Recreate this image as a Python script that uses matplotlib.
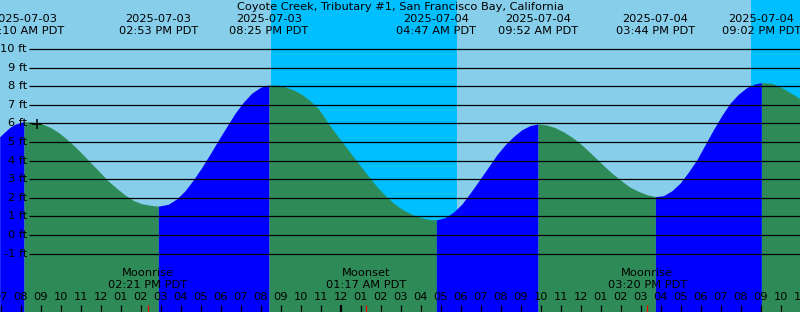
"""
Tide chart for Coyote Creek, Tributary #1 (2025-07-03 .. 2025-07-04).
"""

import numpy as np
import pandas as pd
import matplotlib
matplotlib.use("Agg")
import matplotlib.pyplot as plt
import matplotlib.transforms as mtransforms

BASE = pd.Timestamp("2025-07-03 00:00")

# high / low tide events
event_stamps = ["2025-07-03 08:10", "2025-07-03 14:53", "2025-07-03 20:25",
                "2025-07-04 04:47", "2025-07-04 09:52", "2025-07-04 15:44",
                "2025-07-04 21:02"]
event_ft = [6.09, 1.55, 8.06, 0.81, 5.97, 2.06, 8.19]

# tide height (hours since 2025-07-03 00:00, feet)
curve_hours = [6.95, 7.215, 7.465, 7.715, 7.965,
               8.63, 9.05, 9.465, 9.88, 10.30, 10.715, 11.13, 11.55, 11.965, 12.38,
               12.80, 13.215, 13.63, 14.05, 14.465,
               15.38, 15.80, 16.215, 16.63, 17.05, 17.465, 17.88, 18.30, 18.715, 19.13,
               19.55, 19.965, 20.215,
               20.80, 21.215, 21.63, 22.05, 22.465, 22.88, 23.10, 23.38, 23.80, 24.215,
               24.63, 25.05, 25.465, 25.88, 26.30, 26.715, 27.13, 27.55, 27.965, 28.38,
               29.215, 29.63, 30.05, 30.465, 30.88, 31.34, 31.80, 32.215, 32.63, 33.05,
               33.465,
               34.30, 34.715, 35.13, 35.55, 35.965, 36.38, 36.80, 37.215, 37.63, 38.05,
               38.465, 38.88, 39.30,
               40.13, 40.55, 40.965, 41.38, 41.80, 42.215, 42.63, 43.05, 43.465, 43.88,
               44.30, 44.715,
               45.55, 45.965, 46.38, 46.80, 46.97]
curve_ft = [5.28, 5.55, 5.79, 5.95, 6.04,
            6.06, 5.97, 5.79, 5.52, 5.16, 4.75, 4.30, 3.83, 3.37, 2.90,
            2.51, 2.15, 1.86, 1.68, 1.60,
            1.65, 1.94, 2.37, 2.96, 3.62, 4.34, 5.09, 5.82, 6.54, 7.13,
            7.62, 7.92, 8.03,
            8.05, 7.96, 7.80, 7.56, 7.22, 6.80, 6.45, 6.00, 5.38, 4.80,
            4.21, 3.62, 3.05, 2.51, 2.04, 1.65, 1.34, 1.11, 0.95, 0.84,
            0.93, 1.22, 1.65, 2.24, 2.87, 3.58, 4.30, 4.84, 5.28, 5.65,
            5.88,
            5.91, 5.77, 5.55, 5.27, 4.93, 4.52, 4.09, 3.66, 3.26, 2.90,
            2.57, 2.35, 2.17,
            2.11, 2.37, 2.78, 3.37, 4.03, 4.84, 5.65, 6.41, 7.08, 7.56,
            7.92, 8.12,
            8.15, 7.97, 7.71, 7.44, 7.31]

sunsets = ["2025-07-03 20:31", "2025-07-04 20:31"]
sunrises = ["2025-07-04 05:48", "2025-07-05 05:49"]

moon_labels = ["Moonrise", "Moonset", "Moonrise"]
moon_stamps = ["2025-07-03 14:21", "2025-07-04 01:17", "2025-07-04 15:20"]

now_hour, now_ft = 8.83, 5.95
ft_levels = list(range(-1, 11))

TITLE = "Coyote Creek, Tributary #1, San Francisco Bay, California"

SKY = "#87ceeb"
NIGHT = "#00bfff"
FALLING = "#2e8b57"
RISING = "#0000ff"
FS = 8.2


def hours(stamps):
    return [(pd.Timestamp(s) - BASE) / pd.Timedelta(hours=1) for s in stamps]


W, H = 800, 312
X0, X1 = 6.965, 46.965
Y0, Y1 = -4.14, 12.63

fig = plt.figure(figsize=(W / 100, H / 100), dpi=100)
ax = fig.add_axes([0, 0, 1, 1])
ax.set_xlim(X0, X1)
ax.set_ylim(Y0, Y1)
ax.axis("off")
ax.add_patch(plt.Rectangle((0, 0), 1, 1, transform=ax.transAxes, color=SKY, zorder=0))

for s0, s1 in zip(hours(sunsets), hours(sunrises)):
    ax.axvspan(s0, s1, color=NIGHT, lw=0, zorder=0.5)

ev_h = hours(event_stamps)
all_t = np.array(curve_hours + ev_h)
all_f = np.array(curve_ft + event_ft)
order = np.argsort(all_t)
all_t, all_f = all_t[order], all_f[order]

# falling water in green, rising water in blue
bounds = [all_t[0]] + ev_h + [all_t[-1]]
for a, b in zip(bounds[:-1], bounds[1:]):
    m = (all_t >= a) & (all_t <= b)
    rising = np.interp(b, all_t, all_f) > np.interp(a, all_t, all_f)
    ax.fill_between(all_t[m], all_f[m], Y0 - 1, color=RISING if rising else FALLING,
                    lw=0, zorder=1)

# grid lines and level labels
gx = X0 + 29 / W * (X1 - X0)
ax.hlines(ft_levels, gx, X1 + 1, color="black", lw=0.9, zorder=2)
lab_tr = mtransforms.blended_transform_factory(ax.transAxes, ax.transData)
for v in ft_levels:
    ax.text(27 / W, v, f"{v} ft", transform=lab_tr, ha="right", va="center",
            fontsize=FS, zorder=3)

ax.plot([now_hour], [now_ft], marker="+", ms=7, mew=1.1, color="black", zorder=3)

tr = mtransforms.blended_transform_factory(ax.transData, ax.transAxes)

# title and tide event labels
ax.text(0.5, 1 - 7 / H, TITLE, transform=ax.transAxes, ha="center", va="center",
        fontsize=FS)
for s, t in zip(event_stamps, ev_h):
    ts = pd.Timestamp(s)
    ax.text(t, 1 - 19 / H, ts.strftime("%Y-%m-%d"), transform=tr, ha="center",
            va="center", fontsize=FS, zorder=3)
    ax.text(t, 1 - 31 / H, ts.strftime("%I:%M %p PDT"), transform=tr, ha="center",
            va="center", fontsize=FS, zorder=3)

# hour ticks
for hr in range(7, 48):
    midnight = hr % 24 == 0
    ax.vlines(hr, 0, 7 / H, transform=tr, color="black", lw=1.6 if midnight else 0.9,
              zorder=3)
    lbl = f"{(hr % 12) or 12:02d}"
    ax.text(hr, 15 / H, lbl, transform=tr, ha="center", va="center", fontsize=FS,
            zorder=3)

# moon events
for name, s, t in zip(moon_labels, moon_stamps, hours(moon_stamps)):
    ax.vlines(t, 0, 7 / H, transform=tr, color="red", lw=0.9, zorder=3.5)
    ax.text(t, 1 - 273 / H, name, transform=tr, ha="center", va="center",
            fontsize=FS, zorder=3)
    ax.text(t, 1 - 285 / H, pd.Timestamp(s).strftime("%I:%M %p PDT"), transform=tr,
            ha="center", va="center", fontsize=FS, zorder=3)

fig.savefig("out.png", dpi=100)
